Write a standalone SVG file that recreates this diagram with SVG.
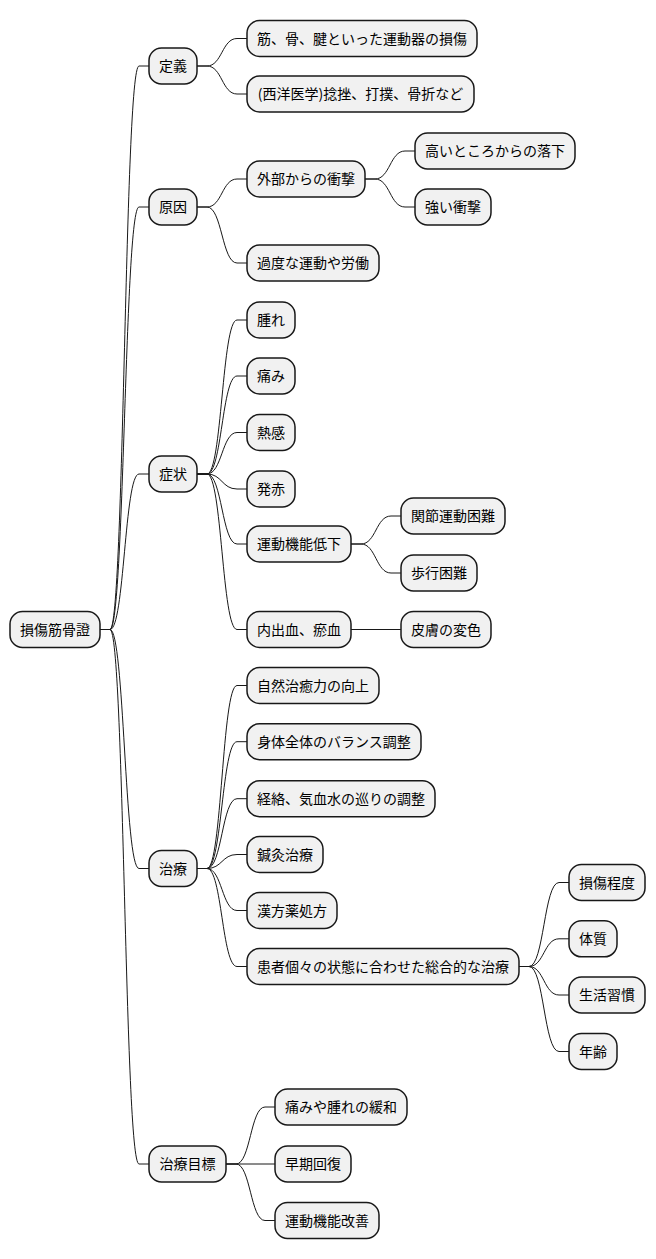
<svg xmlns="http://www.w3.org/2000/svg" width="656" height="1259" viewBox="0 0 656 1259">
<style>
.n rect{fill:#F1F1F1;stroke:#181818;stroke-width:1.5}
.n text{font-family:"Noto Sans CJK JP","Noto Sans CJK SC",sans-serif;font-size:14px;fill:#000;text-anchor:middle}
#connectors path{fill:none;stroke:#181818;stroke-width:1}
</style>
<rect width="656" height="1259" fill="#FFFFFF"/>
<g id="connectors">
<path d="M100 629.5H110C124.5 629.5 124.5 66 139 66H149"/>
<path d="M100 629.5H110C124.5 629.5 124.5 207 139 207H149"/>
<path d="M100 629.5H110C124.5 629.5 124.5 474 139 474H149"/>
<path d="M100 629.5H110C124.5 629.5 124.5 868.5 139 868.5H149"/>
<path d="M100 629.5H110C124.5 629.5 124.5 1164 139 1164H149"/>
<path d="M197 66H207C222 66 222 38.5 237 38.5H247"/>
<path d="M197 66H207C222 66 222 94 237 94H247"/>
<path d="M197 207H207C222 207 222 179 237 179H247"/>
<path d="M197 207H207C222 207 222 263 237 263H247"/>
<path d="M197 474H207C222 474 222 320 237 320H247"/>
<path d="M197 474H207C222 474 222 376 237 376H247"/>
<path d="M197 474H207C222 474 222 432.5 237 432.5H247"/>
<path d="M197 474H207C222 474 222 489 237 489H247"/>
<path d="M197 474H207C222 474 222 544 237 544H247"/>
<path d="M197 474H207C222 474 222 629.5 237 629.5H247"/>
<path d="M197 868.5H207C222 868.5 222 685.5 237 685.5H247"/>
<path d="M197 868.5H207C222 868.5 222 741.7 237 741.7H247"/>
<path d="M197 868.5H207C222 868.5 222 798.7 237 798.7H247"/>
<path d="M197 868.5H207C222 868.5 222 854.5 237 854.5H247"/>
<path d="M197 868.5H207C222 868.5 222 910.5 237 910.5H247"/>
<path d="M197 868.5H207C222 868.5 222 966.5 237 966.5H247"/>
<path d="M226 1164H236C250.5 1164 250.5 1107 265 1107H275"/>
<path d="M226 1164H275"/>
<path d="M226 1164H236C250.5 1164 250.5 1220.5 265 1220.5H275"/>
<path d="M365 179H375C390 179 390 151 405 151H415"/>
<path d="M365 179H375C390 179 390 207 405 207H415"/>
<path d="M351 544H361C376 544 376 516 391 516H401"/>
<path d="M351 544H361C376 544 376 573 391 573H401"/>
<path d="M351 629.5H401"/>
<path d="M519 966.5H529C544 966.5 544 882.5 559 882.5H569"/>
<path d="M519 966.5H529C544 966.5 544 938.8 559 938.8H569"/>
<path d="M519 966.5H529C544 966.5 544 995 559 995H569"/>
<path d="M519 966.5H529C544 966.5 544 1051.5 559 1051.5H569"/>
</g>
<g id="root" class="n"><rect x="10" y="611.5" width="90" height="36" rx="12.5"/><text x="55" y="634.5">損傷筋骨證</text></g>
<g id="teigi" class="n"><rect x="149" y="48" width="48" height="36" rx="12.5"/><text x="173" y="71">定義</text></g>
<g id="genin" class="n"><rect x="149" y="189" width="48" height="36" rx="12.5"/><text x="173" y="212">原因</text></g>
<g id="shojo" class="n"><rect x="149" y="456" width="48" height="36" rx="12.5"/><text x="173" y="479">症状</text></g>
<g id="chiryo" class="n"><rect x="149" y="850.5" width="48" height="36" rx="12.5"/><text x="173" y="873.5">治療</text></g>
<g id="mokuhyo" class="n"><rect x="149" y="1146" width="77" height="36" rx="12.5"/><text x="187.5" y="1169">治療目標</text></g>
<g id="d1" class="n"><rect x="247" y="20.5" width="230" height="36" rx="12.5"/><text x="362" y="43.5">筋、骨、腱といった運動器の損傷</text></g>
<g id="d2" class="n"><rect x="247" y="76" width="227" height="36" rx="12.5"/><text x="360.5" y="99">(西洋医学)捻挫、打撲、骨折など</text></g>
<g id="g1" class="n"><rect x="247" y="161" width="118" height="36" rx="12.5"/><text x="306" y="184">外部からの衝撃</text></g>
<g id="g2" class="n"><rect x="247" y="245" width="132" height="36" rx="12.5"/><text x="313" y="268">過度な運動や労働</text></g>
<g id="g11" class="n"><rect x="415" y="133" width="160" height="36" rx="12.5"/><text x="495" y="156">高いところからの落下</text></g>
<g id="g12" class="n"><rect x="415" y="189" width="76" height="36" rx="12.5"/><text x="453" y="212">強い衝撃</text></g>
<g id="s1" class="n"><rect x="247" y="302" width="48" height="36" rx="12.5"/><text x="271" y="325">腫れ</text></g>
<g id="s2" class="n"><rect x="247" y="358" width="48" height="36" rx="12.5"/><text x="271" y="381">痛み</text></g>
<g id="s3" class="n"><rect x="247" y="414.5" width="48" height="36" rx="12.5"/><text x="271" y="437.5">熱感</text></g>
<g id="s4" class="n"><rect x="247" y="471" width="48" height="36" rx="12.5"/><text x="271" y="494">発赤</text></g>
<g id="s5" class="n"><rect x="247" y="526" width="104" height="36" rx="12.5"/><text x="299" y="549">運動機能低下</text></g>
<g id="s6" class="n"><rect x="247" y="611.5" width="104" height="36" rx="12.5"/><text x="299" y="634.5">内出血、瘀血</text></g>
<g id="s51" class="n"><rect x="401" y="498" width="104" height="36" rx="12.5"/><text x="453" y="521">関節運動困難</text></g>
<g id="s52" class="n"><rect x="401" y="555" width="76" height="36" rx="12.5"/><text x="439" y="578">歩行困難</text></g>
<g id="s61" class="n"><rect x="401" y="611.5" width="90" height="36" rx="12.5"/><text x="446" y="634.5">皮膚の変色</text></g>
<g id="c1" class="n"><rect x="247" y="667.5" width="132" height="36" rx="12.5"/><text x="313" y="690.5">自然治癒力の向上</text></g>
<g id="c2" class="n"><rect x="247" y="723.7" width="174" height="36" rx="12.5"/><text x="334" y="746.7">身体全体のバランス調整</text></g>
<g id="c3" class="n"><rect x="247" y="780.7" width="188" height="36" rx="12.5"/><text x="341" y="803.7">経絡、気血水の巡りの調整</text></g>
<g id="c4" class="n"><rect x="247" y="836.5" width="76" height="36" rx="12.5"/><text x="285" y="859.5">鍼灸治療</text></g>
<g id="c5" class="n"><rect x="247" y="892.5" width="90" height="36" rx="12.5"/><text x="292" y="915.5">漢方薬処方</text></g>
<g id="c6" class="n"><rect x="247" y="948.5" width="272" height="36" rx="12.5"/><text x="383" y="971.5">患者個々の状態に合わせた総合的な治療</text></g>
<g id="c61" class="n"><rect x="569" y="864.5" width="76" height="36" rx="12.5"/><text x="607" y="887.5">損傷程度</text></g>
<g id="c62" class="n"><rect x="569" y="920.8" width="48" height="36" rx="12.5"/><text x="593" y="943.8">体質</text></g>
<g id="c63" class="n"><rect x="569" y="977" width="76" height="36" rx="12.5"/><text x="607" y="1000">生活習慣</text></g>
<g id="c64" class="n"><rect x="569" y="1033.5" width="48" height="36" rx="12.5"/><text x="593" y="1056.5">年齢</text></g>
<g id="m1" class="n"><rect x="275" y="1089" width="132" height="36" rx="12.5"/><text x="341" y="1112">痛みや腫れの緩和</text></g>
<g id="m2" class="n"><rect x="275" y="1146" width="76" height="36" rx="12.5"/><text x="313" y="1169">早期回復</text></g>
<g id="m3" class="n"><rect x="275" y="1202.5" width="104" height="36" rx="12.5"/><text x="327" y="1225.5">運動機能改善</text></g>
</svg>
